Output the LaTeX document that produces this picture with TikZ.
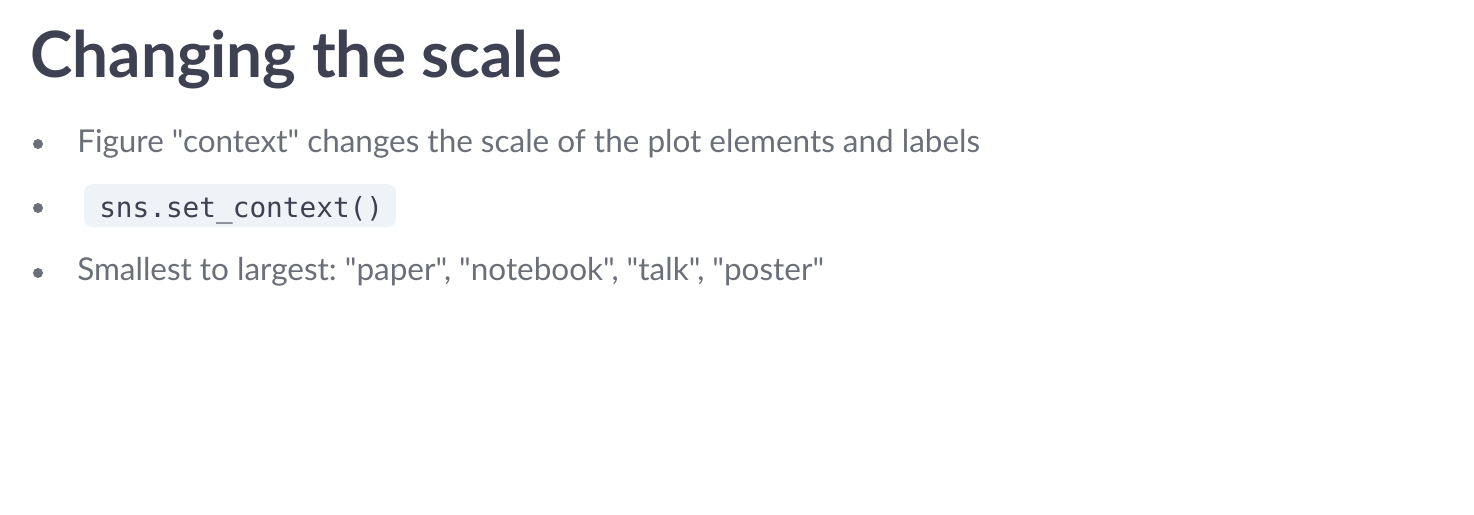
\documentclass[tikz,border=0pt]{standalone}
\usepackage{fontspec}
\setmainfont{Lato}
\newfontfamily\bodyfont{Lato}
\newfontfamily\codefont{DejaVu Sans Mono}
\usepackage{tikz}

\definecolor{titlegray}{HTML}{3D4151}
\definecolor{textgray}{HTML}{6B6F78}
\definecolor{codebg}{HTML}{EDF3F6}

\tikzset{
    bodytext/.style={anchor=base west, inner sep=0pt, text=textgray,
        font=\bodyfont\fontsize{23.6}{28}\selectfont\frenchspacing},
    bulletdot/.style={fill=textgray, draw=none}
}

\begin{document}
\begin{tikzpicture}[x=0.75pt, y=-0.75pt]

    % Page frame
    \useasboundingbox (0,0) rectangle (1474,514);

    % Title
    \node[anchor=base west, inner sep=0pt, text=titlegray,
        font=\fontsize{47.9}{54}\selectfont\bfseries] (title) at (30,77) {Changing the scale};

    % Bullets
    \fill[bulletdot] (38,144) circle (5);
    \fill[bulletdot] (38,208) circle (5);
    \fill[bulletdot] (38,273) circle (5);

    % First item
    \node[bodytext] (itemone) at (77,152) {Figure "context" changes the scale of the plot elements and labels};

    % Code item, inline box
    \fill[codebg, rounded corners=6] (84,184) rectangle (396,227);
    \node[anchor=base west, inner sep=0pt, text=titlegray,
        font=\codefont\fontsize{20.8}{24}\selectfont] (code) at (99,217) {sns.set\_context()};

    % Last item
    \node[bodytext] (itemthree) at (77,280) {Smallest to largest: "paper", "notebook", "talk", "poster"};

\end{tikzpicture}
\end{document}
